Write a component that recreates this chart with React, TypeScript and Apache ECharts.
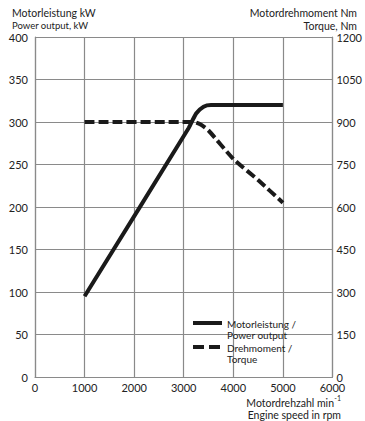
import React, { useEffect, useRef } from "react";
import * as echarts from "echarts";

const xTicks = [0, 1000, 2000, 3000, 4000, 5000, 6000];
const powerRpm = [1000, 3100, 3250, 3400, 3550, 5000];
const powerKw = [95, 293, 310, 318, 320, 320];
const torqueRpm = [1000, 3200, 3350, 3500, 4000, 4500, 5000];
const torqueNm = [900, 900, 890, 870, 770, 695, 615];

const FONT = "Lato, 'Open Sans', sans-serif";
const TXT = "#222";
const GRID = "#8a8a8a";

function txt(x: number, y: number, text: string, size: number, align = "left") {
  return {
    type: "text",
    x,
    y,
    z: 110,
    style: { text, fill: TXT, font: `${size}px ${FONT}`, align, verticalAlign: "middle" },
  };
}

export default function App() {
  const ref = useRef<HTMLDivElement>(null);
  useEffect(() => {
    if (!ref.current) return;
    const chart = echarts.init(ref.current, null, { renderer: "svg" });
    const power = powerRpm.map((r, i) => [r, powerKw[i]]);
    const torque = torqueRpm.map((r, i) => [r, torqueNm[i]]);
    const plain = (v: number) => String(v);
    const lbl = { color: TXT, fontSize: 11, fontFamily: FONT, formatter: plain, lineHeight: 10 };
    chart.setOption({
      animation: false,
      backgroundColor: "#fff",
      grid: { left: 35, right: 32, top: 37, bottom: 44 },
      xAxis: {
        type: "value",
        min: xTicks[0],
        max: xTicks[xTicks.length - 1],
        interval: 1000,
        axisLine: { show: true, onZero: false, lineStyle: { color: GRID, width: 1.2 } },
        axisTick: { show: false },
        axisLabel: { ...lbl, margin: 5 },
        splitLine: { show: true, lineStyle: { color: GRID, width: 1.2 } },
      },
      yAxis: [
        {
          type: "value",
          min: 0,
          max: 400,
          interval: 50,
          axisLine: { show: true, lineStyle: { color: GRID, width: 1.2 } },
          axisTick: { show: false },
          axisLabel: { ...lbl, margin: 7 },
          splitLine: { show: true, lineStyle: { color: GRID, width: 1.2 } },
        },
        {
          type: "value",
          min: 0,
          max: 1200,
          interval: 150,
          position: "right",
          axisLine: { show: true, lineStyle: { color: GRID, width: 1.2 } },
          axisTick: { show: false },
          axisLabel: { ...lbl, margin: 4 },
          splitLine: { show: false },
        },
      ],
      graphic: [
        txt(12, 13, "Motorleistung kW", 10.5),
        txt(12, 25.5, "Power output, kW", 9.5),
        txt(357, 13, "Motordrehmoment Nm", 10.5, "right"),
        txt(357, 25.5, "Torque, Nm", 10.5, "right"),
        txt(334, 403, "Motordrehzahl min", 10.5, "right"),
        txt(341, 398, "-1", 7, "right"),
        txt(341, 414.5, "Engine speed in rpm", 10.5, "right"),
        {
          type: "group",
          x: 185,
          y: 314,
          z: 100,
          children: [
            { type: "rect", shape: { x: 0, y: 0, width: 108, height: 52 }, style: { fill: "#fff" } },
            { type: "line", shape: { x1: 8, y1: 9, x2: 37, y2: 9 }, style: { stroke: "#1a1a1a", lineWidth: 4 } },
            { type: "line", shape: { x1: 8, y1: 33, x2: 37, y2: 33 }, style: { stroke: "#1a1a1a", lineWidth: 4, lineDash: [11, 5] } },
          ],
        },
        txt(227, 323.5, "Motorleistung /", 10),
        txt(227, 334.5, "Power output", 10),
        txt(227, 347.5, "Drehmoment /", 10),
        txt(227, 359, "Torque", 10),
      ],
      series: [
        {
          name: "Motorleistung / Power output",
          type: "line",
          yAxisIndex: 0,
          data: power,
          showSymbol: false,
          smooth: 0.2,
          lineStyle: { color: "#1a1a1a", width: 4 },
          z: 5,
        },
        {
          name: "Drehmoment / Torque",
          type: "line",
          yAxisIndex: 1,
          data: torque,
          showSymbol: false,
          smooth: 0.2,
          lineStyle: { color: "#1a1a1a", width: 4, type: [10, 4] },
          z: 4,
        },
      ],
    });
    return () => chart.dispose();
  }, []);
  return <div ref={ref} style={{ width: 365, height: 421, position: "absolute", left: 0, top: 0 }} />;
}
